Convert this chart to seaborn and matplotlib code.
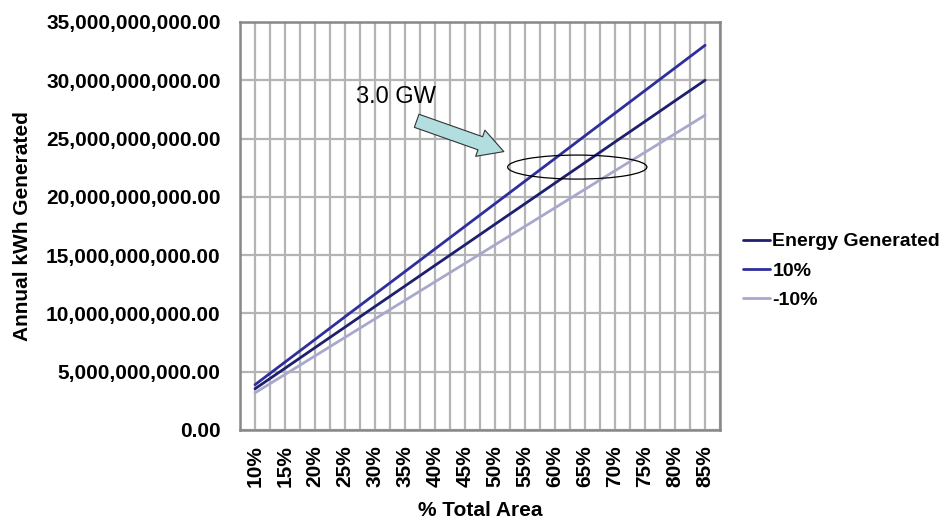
import matplotlib
matplotlib.use("Agg")
import matplotlib.pyplot as plt
import seaborn as sns
import pandas as pd
from matplotlib.patches import Ellipse, FancyArrowPatch
from matplotlib.ticker import FuncFormatter, MultipleLocator

pct_area = [10, 15, 20, 25, 30, 35, 40, 45, 50, 55, 60, 65, 70, 75, 80, 85]
tick_labels = [f"{p}%" for p in pct_area]

# annual kWh, in billions
energy_generated = [3.53, 5.29, 7.06, 8.82, 10.59, 12.35, 14.12, 15.88,
                    17.65, 19.41, 21.18, 22.94, 24.71, 26.47, 28.24, 30.00]
plus_10 = [3.88, 5.82, 7.76, 9.71, 11.65, 13.59, 15.53, 17.47,
           19.41, 21.35, 23.29, 25.24, 27.18, 29.12, 31.06, 33.00]
minus_10 = [3.18, 4.76, 6.35, 7.94, 9.53, 11.12, 12.71, 14.29,
            15.88, 17.47, 19.06, 20.65, 22.24, 23.82, 25.41, 27.00]

series_names = ["Energy Generated", "10%", "-10%"]
palette = {"Energy Generated": "#1f1f70", "10%": "#2e2e9c", "-10%": "#a8a8cc"}

rows = []
for name, vals in zip(series_names, [energy_generated, plus_10, minus_10]):
    for p, v in zip(pct_area, vals):
        rows.append({"pct": p, "kwh": v * 1e9, "series": name})
df = pd.DataFrame(rows)

sns.set_style("white")
plt.rcParams["font.family"] = ["Liberation Sans", "DejaVu Sans"]
plt.rcParams["text.color"] = "black"
plt.rcParams["xtick.color"] = "black"
plt.rcParams["ytick.color"] = "black"
plt.rcParams["axes.labelcolor"] = "black"

FS = 15

fig = plt.figure(figsize=(9.45, 5.23), dpi=100)
ax = fig.add_axes([0.254, 0.178, 0.508, 0.78])

sns.lineplot(data=df, x="pct", y="kwh", hue="series", hue_order=series_names,
             palette=palette, linewidth=2, ax=ax)

ax.set_xlim(7.5, 87.5)
ax.set_ylim(0, 35e9)
ax.set_xticks(pct_area)
ax.set_xticklabels(tick_labels, rotation=90, fontsize=FS, fontweight="bold")
ax.xaxis.set_minor_locator(MultipleLocator(2.5))
ax.yaxis.set_major_locator(MultipleLocator(5e9))
ax.yaxis.set_major_formatter(FuncFormatter(lambda v, _: f"{v:,.2f}"))
for lab in ax.get_yticklabels():
    lab.set_fontsize(FS)
    lab.set_fontweight("bold")
ax.tick_params(axis="y", which="both", length=0, pad=14)
ax.tick_params(axis="x", which="both", length=0, pad=11)

ax.grid(True, which="both", axis="x", color="#b4b4b4", linewidth=1.6)
ax.grid(True, which="major", axis="y", color="#b4b4b4", linewidth=1.6)
ax.set_axisbelow(True)
for sp in ax.spines.values():
    sp.set_color("#888888")
    sp.set_linewidth(1.8)

ax.set_xlabel("% Total Area", fontsize=FS, fontweight="bold", labelpad=10)
ax.set_ylabel("Annual kWh Generated", fontsize=FS, fontweight="bold", labelpad=10)

leg = ax.legend(loc="center left", bbox_to_anchor=(1.04, 0.39), frameon=False,
                borderaxespad=0, borderpad=0.2,
                handlelength=1.4, handletextpad=0.1, labelspacing=0.6,
                prop={"size": 14, "weight": "bold"})

# annotation
ax.text(33.5, 28.6e9, "3.0 GW", fontsize=17, ha="center", va="center")
arrow = FancyArrowPatch((36.5, 26.6e9), (51.9, 23.8e9),
                        arrowstyle="simple,head_width=1.0,head_length=0.9,tail_width=0.5",
                        mutation_scale=20, facecolor="#b2dee0", edgecolor="#333333",
                        linewidth=0.8, zorder=5)
ax.add_patch(arrow)
ax.add_patch(Ellipse((63.7, 22.55e9), 23.2, 2.06e9, fill=False,
                     edgecolor="black", linewidth=0.9, zorder=5))

fig.savefig("out.png", dpi=100)
